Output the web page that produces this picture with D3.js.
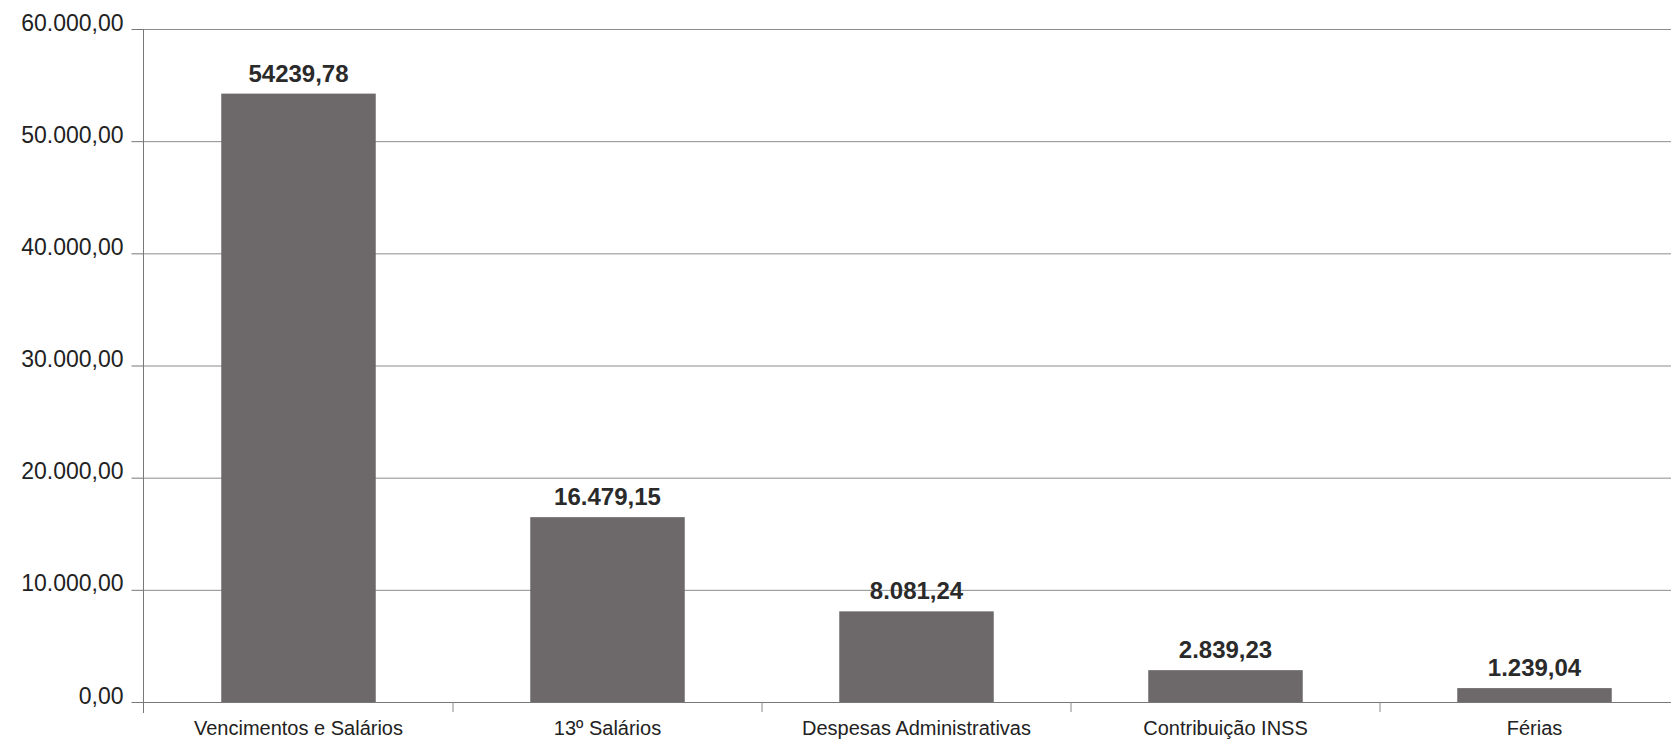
<!DOCTYPE html>
<html>
<head>
<meta charset="utf-8">
<script src="https://cdn.jsdelivr.net/npm/d3@7"></script>
<style>
  body { margin: 0; background: #fff; }
  text { font-family: "Liberation Sans", Arial, sans-serif; fill: #222; }
</style>
</head>
<body>
<div id="chart"></div>
<script>
(function () {

  // data
  var categories = ["Vencimentos e Salários", "13º Salários", "Despesas Administrativas", "Contribuição INSS", "Férias"]
  var values = [54239.78, 16479.15, 8081.24, 2839.23, 1239.04]
  var valueLabels = ["54239,78", "16.479,15", "8.081,24", "2.839,23", "1.239,04"]
  var yTicks = [0, 10000, 20000, 30000, 40000, 50000, 60000]

  var W = 1671, H = 742
  var margin = { top: 29, left: 144, bottom: 40 }
  var plotRight = 1689   // last band runs past the page edge in the scan

  var svg = d3.select("#chart").append("svg")
    .attr("width", W)
    .attr("height", H)

  var x = d3.scaleBand()
    .domain(categories)
    .range([margin.left, plotRight])
    .paddingInner(0.5)
    .paddingOuter(0.25)

  var y = d3.scaleLinear()
    .domain([0, 60000])
    .range([H - margin.bottom, margin.top])

  var br = d3.formatLocale({ decimal: ",", thousands: ".", grouping: [3], currency: ["R$", ""] })
  var fmt = br.format(",.2f")

  // gridlines
  svg.append("g")
    .selectAll("line")
    .data(yTicks)
    .enter().append("line")
    .attr("x1", margin.left)
    .attr("x2", W)
    .attr("y1", function (d) { return y(d) + 0.5 })
    .attr("y2", function (d) { return y(d) + 0.5 })
    .attr("stroke", function (d) { return d === 0 ? "#777" : "#8c8c8c" })
    .attr("stroke-width", 1)

  // bars
  svg.selectAll(".bar")
    .data(values)
    .enter().append("rect")
    .attr("class", "bar")
    .attr("x", function (d, i) { return x(categories[i]) })
    .attr("y", function (d) { return y(d) })
    .attr("width", x.bandwidth())
    .attr("height", function (d) { return y(0) - y(d) })
    .attr("fill", "#6d696b")

  // value labels
  svg.selectAll(".vlabel")
    .data(values)
    .enter().append("text")
    .attr("class", "vlabel")
    .attr("x", function (d, i) { return x(categories[i]) + x.bandwidth() / 2 })
    .attr("y", function (d) { return y(d) - 12 })
    .attr("text-anchor", "middle")
    .style("font-size", "24px")
    .style("font-weight", "bold")
    .style("fill", "#2a2a2a")
    .text(function (d, i) { return valueLabels[i] })

  // y axis
  var yAxis = d3.axisLeft(y)
    .tickValues(yTicks)
    .tickSize(12)
    .tickPadding(8)
    .tickFormat(fmt)

  var gy = svg.append("g")
    .attr("transform", "translate(" + (margin.left - 0.5) + ",0)")
    .call(yAxis)

  gy.select(".domain").remove()
  gy.selectAll(".tick line").attr("stroke", "#777")
  gy.selectAll(".tick text")
    .attr("dy", "0.05em")
    .style("font-size", "23px")
    .style("font-family", "'Liberation Sans', Arial, sans-serif")
    .style("fill", "#222")

  svg.append("line")
    .attr("x1", margin.left - 0.5)
    .attr("x2", margin.left - 0.5)
    .attr("y1", y(60000))
    .attr("y2", y(0) + 11)
    .attr("stroke", "#777")

  // category ticks between bands
  var bounds = categories.slice(0, -1).map(function (c) {
    return x(c) + x.bandwidth() + x.step() * x.paddingInner() / 2
  })
  svg.append("g")
    .selectAll("line")
    .data(bounds)
    .enter().append("line")
    .attr("x1", function (d) { return d })
    .attr("x2", function (d) { return d })
    .attr("y1", y(0))
    .attr("y2", y(0) + 10)
    .attr("stroke", "#888")

  // category labels
  svg.selectAll(".clabel")
    .data(categories)
    .enter().append("text")
    .attr("class", "clabel")
    .attr("x", function (d) { return x(d) + x.bandwidth() / 2 })
    .attr("y", y(0) + 33)
    .attr("text-anchor", "middle")
    .style("font-size", "20px")
    .text(function (d) { return d })

})()
</script>
</body>
</html>
